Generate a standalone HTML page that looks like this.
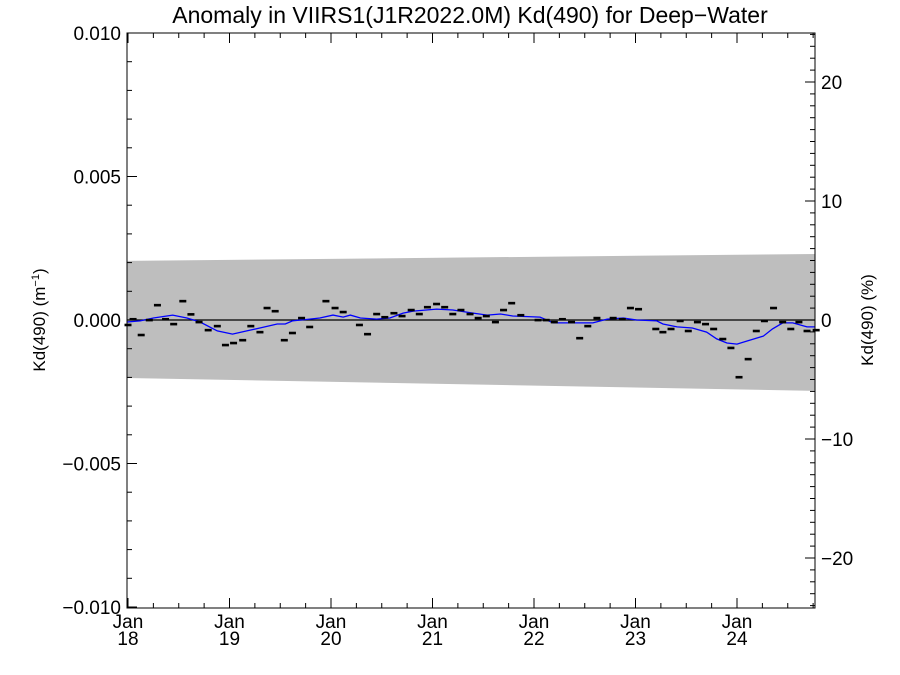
<!DOCTYPE html>
<html><head><meta charset="utf-8"><style>
html,body{margin:0;padding:0;background:#fff;}
svg{display:block;font-family:"Liberation Sans",Arial,sans-serif;}
</style></head><body>
<svg id="chart" width="900" height="675" viewBox="0 0 900 675" xmlns="http://www.w3.org/2000/svg">
<text x="470" y="23" text-anchor="middle" font-size="23">Anomaly in VIIRS1(J1R2022.0M) Kd(490) for Deep−Water</text>
<text transform="translate(45,320) rotate(-90)" text-anchor="middle" font-size="17">Kd(490) (m<tspan font-size="11" dy="-6">−1</tspan><tspan dy="6">)</tspan></text>
<text transform="translate(873,320) rotate(-90)" text-anchor="middle" font-size="17">Kd(490) (%)</text>
<g id="band"></g><g id="zero"></g><g id="line"></g><g id="pts"></g><g id="axes"></g>
</svg>
<script>
// data
const bandYears=[2018.0,2024.78];
const bandUpper=[0.00206,0.00230];
const bandLower=[-0.00202,-0.00247];
const ptYears=[1.0,1.05,1.13,1.21,1.29,1.37,1.45,1.54,1.62,1.70,1.79,1.88,1.96,2.04,2.13,2.21,2.30,2.37,2.45,2.54,2.62,2.71,2.79,2.95,3.04,3.12,3.28,3.36,3.45,3.53,3.62,3.70,3.79,3.87,3.95,4.04,4.12,4.20,4.28,4.37,4.45,4.53,4.62,4.70,4.78,4.87,5.04,5.12,5.20,5.28,5.37,5.45,5.53,5.62,5.78,5.87,5.95,6.03,6.20,6.27,6.35,6.44,6.52,6.61,6.69,6.77,6.86,6.94,7.02,7.11,7.19,7.27,7.36,7.45,7.53,7.61,7.69,7.78];
const ptValues=[-0.00017,0.00003,-0.00052,0.0,0.00052,0.00003,-0.00014,0.00066,0.0002,-0.00007,-0.00035,-0.00021,-0.00087,-0.0008,-0.0007,-0.00021,-0.00042,0.00042,0.00031,-0.0007,-0.00045,0.00007,-0.00024,0.00066,0.00042,0.00028,-0.00017,-0.00049,0.00021,0.0001,0.00024,0.00014,0.00035,0.00021,0.00045,0.00056,0.00045,0.00021,0.00035,0.00021,0.00007,0.00014,-0.00007,0.00035,0.00059,0.00017,0.0,0.0,-0.00007,0.00003,-0.00007,-0.00063,-0.00021,0.00007,0.00007,0.00003,0.00042,0.00038,-0.00031,-0.00042,-0.00031,-0.00003,-0.00038,-0.00007,-0.00014,-0.00031,-0.00066,-0.00097,-0.00199,-0.00136,-0.00038,-0.00003,0.00042,-0.00007,-0.00031,-0.00007,-0.00038,-0.00035];
const lineYears=[-0.01,0.12,0.25,0.44,0.58,0.71,0.88,1.03,1.17,1.30,1.47,1.55,1.62,1.79,1.89,2.02,2.12,2.19,2.29,2.45,2.58,2.71,2.81,3.04,3.20,3.40,3.54,3.67,3.79,4.06,4.19,4.58,4.72,4.88,5.01,5.21,5.27,5.41,5.56,5.70,5.80,5.90,6.00,6.10,6.26,6.35,6.45,6.55,6.69,6.77];
const lineValues=[-0.00007,-0.00003,0.00007,0.00017,0.00007,-0.00007,-0.00038,-0.00049,-0.00038,-0.00028,-0.00014,-0.00014,-0.00003,0.00003,0.00007,0.00017,0.0001,0.00017,0.00007,0.00003,0.00007,0.00024,0.00031,0.00038,0.00035,0.00024,0.00017,0.00021,0.00014,0.0001,-0.0001,-0.0001,0.00003,0.00007,0.0,-0.00003,-0.00014,-0.00024,-0.00028,-0.00042,-0.00066,-0.0008,-0.00084,-0.00073,-0.00056,-0.00031,-0.0001,-0.0001,-0.00024,-0.00024];
const xTickLabels=["18","19","20","21","22","23","24"];
const yTickLeft=[0.010,0.005,0.000,-0.005,-0.010];
const yTickLeftLabels=["0.010","0.005","0.000","−0.005","−0.010"];
const yTickRight=[20,10,0,-10,-20];
const yTickRightLabels=["20","10","0","−10","−20"];

const L=127,R=815,T=33,B=608;
const X0=2018, pxYear=101.5;
function xs(yr){return 128+(yr-X0)*pxYear;}
function ys(v){return 320-v/0.001*28.7;}
function ysP(p){return 320-p*11.9;}
const NS="http://www.w3.org/2000/svg";
function mk(parent,tag,attrs){const e=document.createElementNS(NS,tag);for(const k in attrs)e.setAttribute(k,attrs[k]);document.getElementById(parent).appendChild(e);return e;}

let b=mk('band','polygon',{points:`${L},${ys(bandUpper[0])} ${R},${ys(bandUpper[1])} ${R},${ys(bandLower[1])} ${L},${ys(bandLower[0])}`,fill:'#bebebe'});


let z=mk('zero','line',{x1:L,x2:R,y1:ys(0),y2:ys(0),stroke:'#000','stroke-width':1.3});


let d=lineYears.map((yr,i)=>`${i?'L':'M'}${Math.min(R,Math.max(L,xs(X0+yr))).toFixed(1)},${ys(lineValues[i]).toFixed(1)}`).join(' ');
let ln=mk('line','path',{d:d,fill:'none',stroke:'#0000ff','stroke-width':1.3});


ptYears.forEach((yr,i)=>{
 const x=xs(X0-1+yr);
 const r=mk('pts','rect',{x:x-3.5,y:ys(ptValues[i])-1.2,width:7,height:2.6,fill:'#000'});
 
 
});
let f=mk('axes','rect',{x:L,y:T,width:R-L,height:B-T,fill:'none',stroke:'#000','stroke-width':1});


for(let k=-10;k<=10;k++){const y=ys(k*0.001);const maj=k%5===0;mk('axes','line',{x1:L,x2:L+(maj?10:5),y1:y,y2:y,stroke:'#000'});}
yTickLeft.forEach((v,i)=>{const t=mk('axes','text',{x:L-6,y:ys(v)+7,'text-anchor':'end','font-size':19});t.textContent=yTickLeftLabels[i];
 
 });
for(let k=-24;k<=24;k++){const y=ysP(k);const maj=k%10===0;mk('axes','line',{x1:R,x2:R-(maj?10:5),y1:y,y2:y,stroke:'#000'});}
yTickRight.forEach((v,i)=>{const t=mk('axes','text',{x:R+6,y:ysP(v)+7,'text-anchor':'start','font-size':19});t.textContent=yTickRightLabels[i];
 
 });
for(let q=0;q<=27;q++){const x=xs(X0+q*0.25);if(x>R)break;const maj=q%4===0;
 mk('axes','line',{x1:x,x2:x,y1:B,y2:B-(maj?10:5),stroke:'#000'});
 mk('axes','line',{x1:x,x2:x,y1:T,y2:T+(maj?10:5),stroke:'#000'});}
xTickLabels.forEach((lab,i)=>{const x=xs(X0+i);
 const t1=mk('axes','text',{x:x,y:B+20,'text-anchor':'middle','font-size':19});t1.textContent='Jan';
 
 
 const t2=mk('axes','text',{x:x,y:B+37,'text-anchor':'middle','font-size':19});t2.textContent=lab;
 
 });
</script>
</body></html>
